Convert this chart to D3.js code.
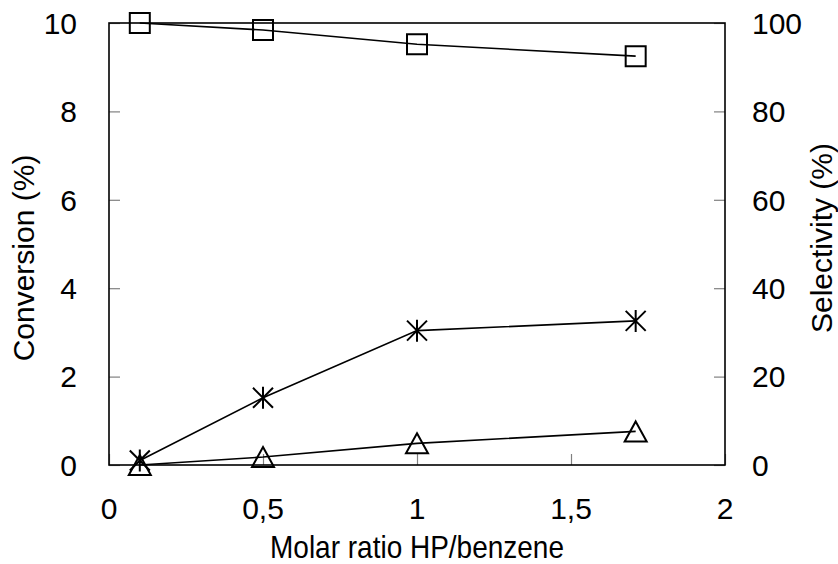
<!DOCTYPE html>
<html lang="en">
<head>
<meta charset="UTF-8">
<title>Conversion and selectivity vs molar ratio</title>
<style>
  * { margin: 0; padding: 0; }
  body { background: #fff; width: 838px; height: 564px; overflow: hidden; }
  svg { display: block; }
  text { font-family: 'Liberation Sans', Arial, sans-serif; fill: #000; }
</style>
</head>
<body>
<svg width="838" height="564"></svg>
<script src="https://d3js.org/d3.v7.min.js"></script>
<script>
// values
const ratio = [0.1, 0.5, 1, 1.71];
const conversionStar = [0.1, 1.52, 3.04, 3.26];
const conversionTri = [0, 0.18, 0.49, 0.76];
const selectivity = [100, 98.4, 95.2, 92.5];

const xTicks = [0, 0.5, 1, 1.5, 2];
const leftTicks = [0, 2, 4, 6, 8, 10];
const rightTicks = [0, 20, 40, 60, 80, 100];

const box = { left: 109, right: 725, top: 23, bottom: 465 };

const svg = d3.select('svg');

const x = d3.scaleLinear().domain([0, 2]).range([box.left, box.right]);
const yL = d3.scaleLinear().domain([0, 10]).range([box.bottom, box.top]);
const yR = d3.scaleLinear().domain([0, 100]).range([box.bottom, box.top]);

const comma = d => String(d).replace('.', ',');

// axes: inward gray ticks, labels drawn separately
const xAxis = svg.append('g')
  .attr('transform', `translate(0,${box.bottom})`)
  .call(d3.axisTop(x).tickValues(xTicks).tickSize(11).tickFormat(''));
const lAxis = svg.append('g')
  .attr('transform', `translate(${box.left},0)`)
  .call(d3.axisRight(yL).tickValues(leftTicks).tickSize(11).tickFormat(''));
const rAxis = svg.append('g')
  .attr('transform', `translate(${box.right},0)`)
  .call(d3.axisLeft(yR).tickValues(rightTicks).tickSize(11).tickFormat(''));

[xAxis, lAxis, rAxis].forEach(a => {
  a.select('.domain').remove();
  a.selectAll('.tick line').attr('stroke', '#808080').attr('stroke-width', 1.2);
});

// frame
svg.append('rect')
  .attr('x', box.left).attr('y', box.top)
  .attr('width', box.right - box.left).attr('height', box.bottom - box.top)
  .attr('fill', 'none').attr('stroke', '#000').attr('stroke-width', 1.6);

// tick labels
svg.append('g').selectAll('text')
  .data(xTicks).join('text')
  .attr('x', d => x(d)).attr('y', 519)
  .attr('text-anchor', 'middle')
  .style('font-size', '30px')
  .text(comma);

svg.append('g').selectAll('text')
  .data(leftTicks).join('text')
  .attr('x', 77).attr('y', d => yL(d))
  .attr('dy', '0.36em')
  .attr('text-anchor', 'end')
  .style('font-size', '30px')
  .text(d => d);

svg.append('g').selectAll('text')
  .data(rightTicks).join('text')
  .attr('x', 752).attr('y', d => yR(d))
  .attr('dy', '0.36em')
  .attr('text-anchor', 'start')
  .style('font-size', '30px')
  .text(d => d);

// axis titles
svg.append('text')
  .attr('transform', 'translate(417,558) scale(1,1.15)')
  .attr('text-anchor', 'middle')
  .style('font-size', '28px')
  .text('Molar ratio HP/benzene');

svg.append('text')
  .attr('transform', 'translate(34,258) rotate(-90)')
  .attr('text-anchor', 'middle')
  .style('font-size', '30px')
  .text('Conversion (%)');

svg.append('text')
  .attr('transform', 'translate(832,238) rotate(-90)')
  .attr('text-anchor', 'middle')
  .style('font-size', '30px')
  .text('Selectivity (%)');

// series
const series = [
  { values: selectivity, y: yR, marker: 'square' },
  { values: conversionStar, y: yL, marker: 'star' },
  { values: conversionTri, y: yL, marker: 'triangle' },
];

const markerPath = {
  square: 'M-10,-10H10V10H-10Z',
  triangle: 'M0,-10L11,10H-11Z',
  star: 'M0,-11V11M-10,-10L10,10M10,-10L-10,10',
};

series.forEach(s => {
  const pts = ratio.map((r, i) => [x(r), s.y(s.values[i])]);

  svg.append('path')
    .datum(pts)
    .attr('fill', 'none')
    .attr('stroke', '#000')
    .attr('stroke-width', 1.6)
    .attr('d', d3.line());

  svg.append('g').selectAll('path')
    .data(pts).join('path')
    .attr('transform', d => `translate(${d[0]},${d[1]})`)
    .attr('d', markerPath[s.marker])
    .attr('fill', 'none')
    .attr('stroke', '#000')
    .attr('stroke-width', 2);
});
</script>
</body>
</html>
